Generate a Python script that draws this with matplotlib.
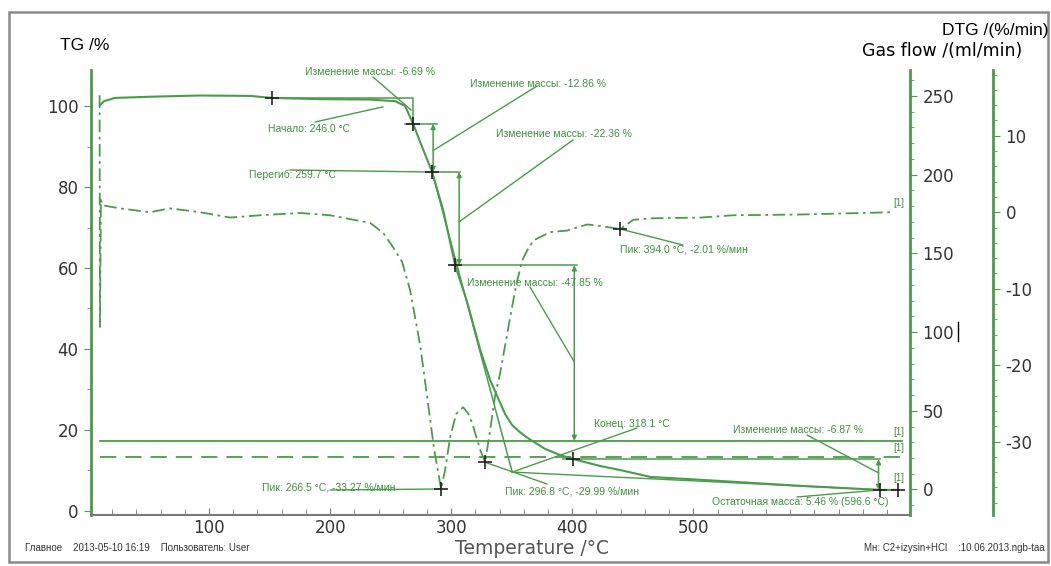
import matplotlib.pyplot as plt
from matplotlib.ticker import MultipleLocator
import numpy as np

W, H = 1051, 566
GREEN = "#4a9c4a"
TEXT_GREEN = "#3d8f3d"
DARK = "#333333"

# TG curve: temperature (axis units) and mass %
tg_temp = [9.9, 13.2, 22.3, 51.2, 92.6, 133.9, 152.1, 191.7, 233.1, 253.7, 262.0,
           268.6, 274.4, 284.3, 293.4, 303.3, 313.2, 324.0, 332.2, 340.5, 344.6, 350.4,
           357.0, 362.8, 377.7, 390.1, 400.8, 423.1, 439.7, 464.5, 505.8, 588.4, 654.5, 669.4]
tg_mass = [100.2, 101.2, 102.0, 102.3, 102.6, 102.5, 102.0, 101.7, 101.6, 101.2, 100.0,
           95.6, 91.1, 83.7, 74.3, 60.7, 51.6, 39.8, 32.3, 26.7, 23.9, 21.2,
           19.4, 18.1, 15.3, 13.8, 12.8, 11.1, 10.1, 8.4, 7.7, 6.2, 5.2, 5.2]

# DTG curve: %/min
dtg_temp = [9.6, 9.9, 10.7, 12.4, 26.4, 51.2, 67.8, 92.6, 117.4, 142.1, 175.2, 200.0,
            233.1, 243.8, 252.1, 259.5, 266.1, 274.4, 280.2, 286.0, 291.7, 295.0,
            299.2, 304.1, 309.9, 314.0, 317.4, 324.0, 328.1, 332.2, 336.4, 340.5,
            348.8, 353.7, 358.7, 362.8, 367.8, 381.8, 395.9, 412.4, 423.1, 439.7,
            450.4, 464.5, 505.8, 533.1, 588.4, 665.3]
dtg_val = [15.3, -15.0, 1.6, 0.9, 0.5, 0.0, 0.5, 0.0, -0.7, -0.4, -0.1, -0.4,
           -1.4, -2.7, -4.6, -6.5, -10.2, -17.4, -24.2, -31.1, -36.2, -33.7,
           -29.4, -26.4, -25.5, -26.3, -27.6, -31.1, -32.7, -28.5, -23.9, -21.0,
           -13.7, -9.5, -6.3, -5.0, -3.7, -2.6, -2.4, -1.6, -1.8, -2.2,
           -1.0, -0.8, -0.7, -0.4, -0.3, 0.0]

# gas flows, ml/min
gas_temp = [9.9, 672.7]
gas_flow_1 = [20.5, 20.5]
gas_flow_2 = [30.5, 30.5]

# evaluated points
tg_marks = [152.1, 268.6, 284.3, 303.3, 400.8, 654.5, 669.4]
dtg_marks = [291.7, 328.1, 439.7]

# mass-change steps: temperature of arrow, upper level, lower level
steps = [(285.1, 95.6, 83.7), (306.6, 83.7, 60.7), (401.7, 60.7, 17.3), (653.0, 12.8, 5.2)]
# level lines: mass %, from, to
levels = [(95.6, 262.0, 288.4), (83.7, 280.2, 307.4), (60.7, 300.8, 404.1), (12.8, 392.6, 654.5)]

# annotation labels: text, left x px, centre y px, leader start px, leader target (axis, x, y)
notes = [
    ("Изменение массы: -6.69 %", 305, 72, (373, 77), ("tg", 267.0, 99.0)),
    ("Изменение массы: -12.86 %", 470, 84, (537, 86), ("tg", 285.1, 89.0)),
    ("Начало: 246.0 °C", 268, 129, (315, 122), ("tg", 243.8, 99.8)),
    ("Изменение массы: -22.36 %", 496, 134, (573, 140), ("tg", 306.6, 71.4)),
    ("Перегиб: 259.7 °C", 249, 175, (290, 170), ("tg", 284.3, 83.7)),
    ("Пик: 394.0 °C, -2.01 %/мин", 620, 249, (683, 245), ("dtg", 439.7, -2.2)),
    ("Изменение массы: -47.85 %", 467, 283, (530, 287), ("tg", 401.7, 36.8)),
    ("Конец: 318.1 °C", 594, 424, (637, 428), ("tg", 350.4, 9.6)),
    ("Изменение массы: -6.87 %", 733, 430, (807, 435), ("tg", 653.0, 9.4)),
    ("Пик: 266.5 °C, -33.27 %/мин", 262, 488, (330, 490), ("dtg", 291.7, -36.2)),
    ("Пик: 296.8 °C, -29.99 %/мин", 505, 492, (547, 484), ("dtg", 328.1, -32.7)),
    ("Остаточная масса: 5.46 % (596.6 °C)", 712, 502, (797, 497), ("tg", 654.5, 5.2)),
]
curve_tags = [(893, 203), (893, 432), (893, 448), (893, 478)]


def fx(x):
    return x / W


def fy(y):
    return 1 - y / H


plt.rcParams['font.family'] = ['Liberation Sans', 'DejaVu Sans']
plt.rcParams['axes.unicode_minus'] = False
fig = plt.figure(figsize=(W / 100, H / 100), dpi=100)

ax = fig.add_axes([fx(91), fy(515), (910 - 91) / W, (515 - 70) / H])
ax_gas = ax.twinx()
ax_dtg = ax.twinx()

ax.set_xlim(2.5, 679)
ax.set_ylim(-1, 108.9)
ax_gas.set_ylim(-16.2, 266.5)
ax_dtg.set_ylim(-39.6, 18.6)

# spines
for s in ['top', 'right']:
    ax.spines[s].set_visible(False)
ax.spines['left'].set_color(GREEN)
ax.spines['left'].set_linewidth(2)
ax.spines['bottom'].set_color('#7a7a7a')
ax.spines['bottom'].set_linewidth(1.5)
for a in (ax_gas, ax_dtg):
    for s in ['top', 'left', 'bottom']:
        a.spines[s].set_visible(False)
    a.spines['right'].set_color(GREEN)
    a.spines['right'].set_linewidth(2)
ax_dtg.spines['right'].set_position(('axes', (993 - 91) / (910 - 91)))

# ticks
ax.xaxis.set_minor_locator(MultipleLocator(20))
ax.set_xticks([100, 200, 300, 400, 500])
ax.tick_params(axis='x', which='both', direction='in', color='#7a7a7a', pad=3)
ax.tick_params(axis='x', which='major', length=5)
ax.tick_params(axis='x', which='minor', length=4)

ax.yaxis.set_minor_locator(MultipleLocator(10))
ax.set_yticks([0, 20, 40, 60, 80, 100])
ax.tick_params(axis='y', which='both', direction='out', color=GREEN, pad=4)
ax.tick_params(axis='y', which='major', length=5)
ax.tick_params(axis='y', which='minor', length=3)

ax_gas.yaxis.set_minor_locator(MultipleLocator(10))
ax_gas.set_yticks([0, 50, 100, 150, 200, 250])
ax_dtg.yaxis.set_minor_locator(MultipleLocator(2))
ax_dtg.set_yticks([-30, -20, -10, 0, 10])
for a in (ax_gas, ax_dtg):
    a.tick_params(axis='y', which='both', direction='out', color=GREEN, pad=4)
    a.tick_params(axis='y', which='major', length=5)
    a.tick_params(axis='y', which='minor', length=3)

for a in (ax, ax_gas, ax_dtg):
    for lab in a.get_xticklabels() + a.get_yticklabels():
        lab.set_fontfamily('DejaVu Sans')
        lab.set_fontsize(12)
        lab.set_color(DARK)

# curves
ax_gas.plot(gas_temp, gas_flow_2, color=GREEN, lw=1.3)
ax_gas.plot(gas_temp, gas_flow_1, color=GREEN, lw=1.3, dashes=(9, 5))
ax_dtg.plot(dtg_temp, dtg_val, color=GREEN, lw=1.3, dashes=(7, 2.5, 1.5, 2.5))
ax.plot(tg_temp, tg_mass, color=GREEN, lw=1.5)

# evaluation constructions
ax.plot([152.1, 268.6, 268.6], [101.9, 101.9, 95.6], color=GREEN, lw=1.1)
ax.plot([284.3, 350.4], [83.7, 9.6], color=GREEN, lw=1.1)
ax.plot([350.4, 654.5], [9.6, 5.2], color=GREEN, lw=1.0)
for lvl, t0, t1 in levels:
    ax.plot([t0, t1], [lvl, lvl], color=GREEN, lw=1.1)
for t, top, bot in steps:
    ax.annotate('', xy=(t, bot), xytext=(t, top),
                arrowprops=dict(arrowstyle='<|-|>', color=GREEN, lw=1.1,
                                mutation_scale=7, shrinkA=0, shrinkB=0))

tg_y = np.interp(tg_marks, tg_temp, tg_mass)
ax.plot(tg_marks, tg_y, ls='none', marker='+', ms=10, mew=1.2, color='#222222', zorder=5)
dtg_y = np.interp(dtg_marks, dtg_temp, dtg_val)
ax_dtg.plot(dtg_marks, dtg_y, ls='none', marker='+', ms=10, mew=1.2, color='#222222', zorder=5)

# labels with leaders
axes_by_key = {"tg": ax, "dtg": ax_dtg}
for text, x, y, start, (key, tx, ty) in notes:
    fig.text(fx(x), fy(y), text, fontsize=7.5, color=TEXT_GREEN, ha='left', va='center')
    axes_by_key[key].annotate('', xy=(tx, ty), xycoords='data',
                              xytext=(fx(start[0]), fy(start[1])), textcoords='figure fraction',
                              arrowprops=dict(arrowstyle='-', color=GREEN, lw=1.0,
                                              shrinkA=0, shrinkB=0))
for x, y in curve_tags:
    fig.text(fx(x), fy(y), "[1]", fontsize=7, color=TEXT_GREEN, ha='left', va='center')

# axis titles
fig.text(fx(60), fy(46), "TG /%", fontsize=12.5, color='black', ha='left', va='center')
fig.text(fx(1048), fy(30), "DTG /(%/min)", fontsize=12.5, color='black', ha='right', va='center')
fig.text(fx(1022), fy(51), "Gas flow /(ml/min)", fontsize=12.5, color='black',
         family='DejaVu Sans', ha='right', va='center')
fig.text(fx(532), fy(548), "Temperature /°C", fontsize=13.5, color='#555555',
         family='DejaVu Sans', ha='center', va='center')

# footer
fig.text(fx(25), fy(548), "Главное    2013-05-10 16:19    Пользователь: User",
         fontsize=7, color=DARK, ha='left', va='center')
fig.text(fx(1045), fy(548), "Мн: C2+izysin+HCl    :10.06.2013.ngb-taa",
         fontsize=7, color=DARK, ha='right', va='center')

# text cursor next to 100 on gas axis, and outer frame
fig.add_artist(plt.Line2D([fx(958), fx(958)], [fy(322), fy(341)], color='black', lw=1))
fig.add_artist(plt.Rectangle((fx(9), fy(562)), fx(1048) - fx(9), fy(12) - fy(562),
                             fill=False, edgecolor='#8a8a8a', lw=1.8))

fig.savefig("out.png", dpi=100)
